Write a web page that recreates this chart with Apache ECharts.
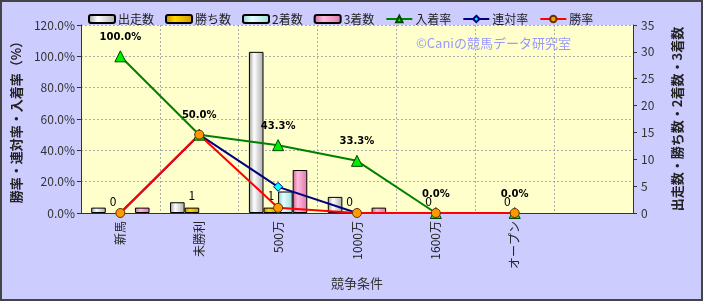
<!DOCTYPE html>
<html><head><meta charset="utf-8">
<script src="https://cdn.jsdelivr.net/npm/echarts@6/dist/echarts.min.js"></script>
<style>
html,body{margin:0;padding:0;background:#CCCCFF;}
#c{width:703px;height:301px;box-sizing:border-box;border:2px solid #444;}
</style></head><body><div id="c"></div>
<script>
const categories = ['新馬','未勝利','500万','1000万','1600万','オープン',''];
const starts   = [1, 2, 30, 3, 0, 0, null];
const wins     = [0, 1, 1, 0, 0, 0, null];
const seconds  = [0, 0, 4, 0, 0, 0, null];
const thirds   = [1, 0, 8, 1, 0, 0, null];
const placeRate = [100.0, 50.0, 43.3, 33.3, 0.0, 0.0, null];
const rentaiRate = [0.0, 50.0, 16.7, 0.0, 0.0, 0.0, null];
const winRate = [0.0, 50.0, 3.3, 0.0, 0.0, 0.0, null];
const leftTicks = {min:0, max:120, interval:20};
const rightTicks = {min:0, max:35, interval:5};

const font = '"Noto Sans CJK JP", sans-serif';
function grad(c0, c1, c2){
  return {type:'linear',x:0,y:0,x2:1,y2:0,colorStops:[{offset:0,color:c0},{offset:0.35,color:c1},{offset:1,color:c2}]};
}
// zero-height bars get no outline (as in the reference)
function barData(arr){
  return arr.map(v => v === null ? null : {value:v, itemStyle: v === 0 ? {borderWidth:0, opacity:0} : {}});
}
const chart = echarts.init(document.getElementById('c'));
const barBase = {type:'bar', yAxisIndex:1, barGap:'0%', barCategoryGap:'26%'};
chart.setOption({
  animation:false,
  textStyle:{fontFamily:font},
  legend:{
    left:81, top:6, itemWidth:26, itemHeight:8, itemGap:11,
    textStyle:{fontSize:12, color:'#222', fontFamily:font, padding:[0,0,0,-2]},
    data:['出走数','勝ち数','2着数','3着数','入着率','連対率','勝率']
  },
  grid:{left:76, right:68, top:23, bottom:86, backgroundColor:'#FFFFCC', show:true, borderWidth:0},
  graphic:[{type:'text', left:414, top:35, style:{text:'©Caniの競馬データ研究室', fill:'#9999FF', font:'13px '+font}}],
  xAxis:{
    type:'category', data:categories,
    name:'競争条件', nameLocation:'middle', nameGap:62,
    nameTextStyle:{fontSize:13, color:'#333', fontFamily:font},
    axisLine:{lineStyle:{color:'#333'}},
    axisTick:{show:false},
    axisLabel:{rotate:90, fontSize:12, color:'#222', margin:8, fontFamily:font},
    splitLine:{show:true, lineStyle:{color:'#aaa', type:[2,2]}}
  },
  yAxis:[{
    type:'value', min:leftTicks.min, max:leftTicks.max, interval:leftTicks.interval, position:'left',
    name:'勝率・連対率・入着率（%）', nameLocation:'middle', nameGap:54, nameRotate:90,
    nameTextStyle:{fontSize:13, color:'#222', fontWeight:'bold', fontFamily:font},
    axisLine:{show:true, lineStyle:{color:'#333'}},
    axisTick:{show:true, length:4, lineStyle:{color:'#333'}},
    axisLabel:{formatter:v=>v.toFixed(1)+'%', fontSize:12, color:'#333', margin:6, fontFamily:font},
    splitLine:{show:true, lineStyle:{color:'#aaa', type:[2,2]}}
  },{
    type:'value', min:rightTicks.min, max:rightTicks.max, interval:rightTicks.interval, position:'right',
    name:'出走数・勝ち数・2着数・3着数', nameLocation:'middle', nameGap:38, nameRotate:90,
    nameTextStyle:{fontSize:13, color:'#222', fontWeight:'bold', fontFamily:font},
    axisLine:{show:true, lineStyle:{color:'#333'}},
    axisTick:{show:true, length:4, lineStyle:{color:'#333'}},
    axisLabel:{fontSize:12, color:'#333', margin:8, fontFamily:font},
    splitLine:{show:false}
  }],
  series:[
    Object.assign({name:'出走数', data:barData(starts), itemStyle:{color:grad('#999','#fff','#aaa'), borderColor:'#000', borderWidth:1}}, barBase),
    Object.assign({name:'勝ち数', data:wins.map(v => v === null ? null : {value:v, itemStyle: v === 0 ? {borderWidth:0, color:'rgba(0,0,0,0)'} : {}}),
      itemStyle:{color:grad('#c08a00','#ffd700','#d09a00'), borderColor:'#000', borderWidth:1},
      label:{show:true, position:'top', distance:6, fontSize:12, color:'#000', fontFamily:font}}, barBase),
    Object.assign({name:'2着数', data:barData(seconds), itemStyle:{color:grad('#88cccc','#e8ffff','#99dddd'), borderColor:'#000', borderWidth:1}}, barBase),
    Object.assign({name:'3着数', data:barData(thirds), itemStyle:{color:grad('#cc6699','#ffbbdd','#dd77aa'), borderColor:'#000', borderWidth:1}}, barBase),
    {name:'入着率', type:'line', data:placeRate, yAxisIndex:0, symbol:'triangle', symbolSize:11,
      lineStyle:{color:'#008000', width:2}, itemStyle:{color:'#00ee00', borderColor:'#004400', borderWidth:1},
      label:{show:true, position:'top', distance:8, formatter:p=>p.value.toFixed(1)+'%', fontSize:10, fontWeight:'bold', color:'#000', fontFamily:'"DejaVu Sans", sans-serif'}},
    {name:'連対率', type:'line', data:rentaiRate, yAxisIndex:0, symbol:'diamond', symbolSize:9,
      lineStyle:{color:'#000080', width:2}, itemStyle:{color:'#00ffff', borderColor:'#000080', borderWidth:1}},
    {name:'勝率', type:'line', data:winRate, yAxisIndex:0, symbol:'circle', symbolSize:9,
      lineStyle:{color:'#ff0000', width:2}, itemStyle:{color:'#ff9900', borderColor:'#663300', borderWidth:1}}
  ]
});
</script></body></html>
